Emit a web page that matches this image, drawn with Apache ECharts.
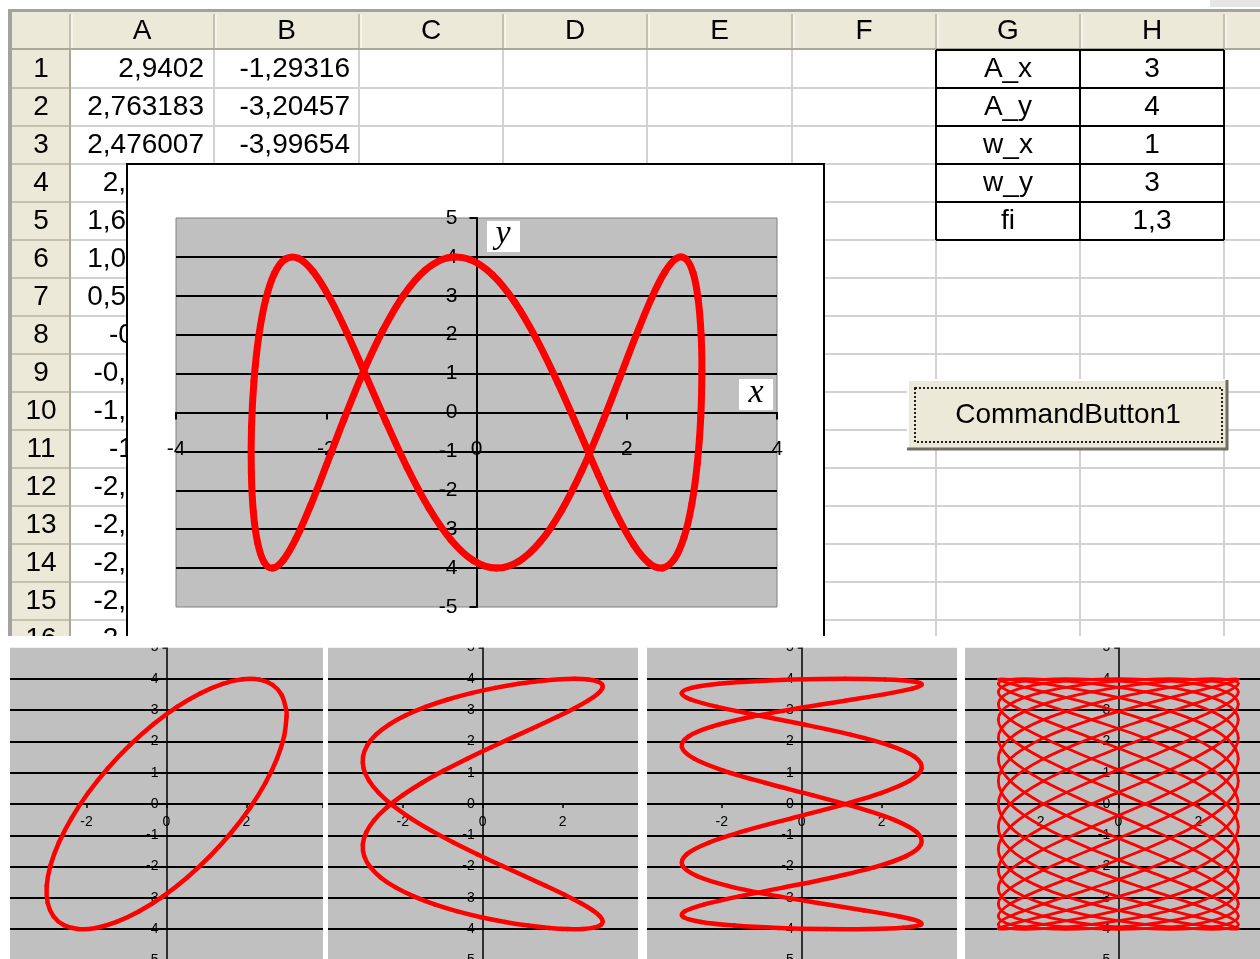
<!DOCTYPE html>
<html>
<head>
<meta charset="utf-8">
<script src="https://cdn.jsdelivr.net/npm/echarts@6/dist/echarts.min.js"></script>
<style>
  html, body { margin: 0; padding: 0; background: #fff; }
  #chart { width: 1260px; height: 959px; }
</style>
</head>
<body>
<div id="chart"></div>
<script>
// ---- worksheet contents ----
const columnLetters = ['A', 'B', 'C', 'D', 'E', 'F', 'G', 'H'];
const rowNumbers = ['1', '2', '3', '4', '5', '6', '7', '8', '9', '10', '11', '12', '13', '14', '15', '16'];
const columnA = ['2,9402', '2,763183', '2,476007', '2,09012', '1,620907', '1,087073', '0,509901', '-0,0876',
                 '-0,68161', '-1,24844', '-1,7655', '-2,21218', '-2,57067', '-2,82667', '-2,96998', '-2,99488'];
const columnB = ['-1,29316', '-3,20457', '-3,99654'];
const paramNames = ['A_x', 'A_y', 'w_x', 'w_y', 'fi'];
const paramValues = ['3', '4', '1', '3', '1,3'];
const buttonCaption = 'CommandButton1';

// ---- main curve: x = A_x cos(w_x t), y = A_y cos(w_y t + fi), t = 0 .. 2pi (last point closes the loop) ----
const mainX = [3.000, 2.985, 2.940, 2.866, 2.763, 2.633, 2.476, 2.295, 2.090, 1.865, 1.621, 1.361, 1.087, 0.802, 0.510, 0.212,
  -0.088, -0.387, -0.682, -0.970, -1.248, -1.515, -1.766, -1.999, -2.212, -2.403, -2.571, -2.712, -2.827, -2.913, -2.970, -2.997,
  -2.995, -2.962, -2.900, -2.809, -2.690, -2.544, -2.373, -2.178, -1.961, -1.724, -1.471, -1.202, -0.922, -0.632, -0.336, -0.037,
  0.262, 0.560, 0.851, 1.134, 1.406, 1.663, 1.904, 2.126, 2.327, 2.504, 2.657, 2.782, 2.881, 2.950, 2.990, 3.000];
const mainY = [1.070, -0.117, -1.293, -2.354, -3.205, -3.769, -3.997, -3.867, -3.392, -2.615, -1.603, -0.449, 0.746, 1.874, 2.835, 3.542,
  3.933, 3.973, 3.658, 3.016, 2.104, 1.005, -0.184, -1.357, -2.408, -3.244, -3.791, -3.999, -3.849, -3.356, -2.563, -1.541,
  -0.382, 0.812, 1.933, 2.882, 3.573, 3.945, 3.964, 3.630, 2.971, 2.047, 0.940, -0.251, -1.420, -2.461, -3.283, -3.812,
  -4.000, -3.831, -3.319, -2.511, -1.479, -0.315, 0.878, 1.992, 2.928, 3.603, 3.955, 3.955, 3.601, 2.926, 1.989, 1.070];

// ---- small figures ----
// 1:1 ellipse
const ellipseX = [3.000, 2.940, 2.763, 2.476, 2.090, 1.621, 1.087, 0.510, -0.088, -0.682, -1.248, -1.766, -2.212, -2.571, -2.827, -2.970,
  -2.995, -2.900, -2.690, -2.373, -1.961, -1.471, -0.922, -0.336, 0.262, 0.851, 1.406, 1.904, 2.327, 2.657, 2.881, 2.990, 3.000];
const ellipseY = [2.787, 2.161, 1.449, 0.680, -0.117, -0.909, -1.665, -2.354, -2.950, -3.428, -3.769, -3.960, -3.993, -3.867, -3.587, -3.164,
  -2.615, -1.961, -1.229, -0.449, 0.350, 1.135, 1.874, 2.539, 3.102, 3.542, 3.841, 3.986, 3.973, 3.801, 3.478, 3.016, 2.787];
// slow vertical sweep shared by the 2:1 and 4:1 figures
const sweepY = [4.000, 3.980, 3.920, 3.821, 3.684, 3.510, 3.301, 3.059, 2.787, 2.486, 2.161, 1.814, 1.449, 1.070, 0.680, 0.283,
  -0.117, -0.515, -0.909, -1.293, -1.665, -2.019, -2.354, -2.665, -2.950, -3.205, -3.428, -3.616, -3.769, -3.884, -3.960, -3.997,
  -3.993, -3.950, -3.867, -3.746, -3.587, -3.392, -3.164, -2.904, -2.615, -2.299, -1.961, -1.603, -1.229, -0.843, -0.449, -0.050,
  0.350, 0.746, 1.135, 1.512, 1.874, 2.217, 2.539, 2.835, 3.102, 3.339, 3.542, 3.710, 3.841, 3.933, 3.986, 4.000];
// 2:1 figure
const doubleX = [2.295, 2.633, 2.866, 2.985, 2.985, 2.866, 2.633, 2.295, 1.865, 1.361, 0.802, 0.212, -0.387, -0.970, -1.515, -1.999,
  -2.403, -2.712, -2.913, -2.997, -2.962, -2.809, -2.544, -2.178, -1.724, -1.202, -0.632, -0.037, 0.560, 1.134, 1.663, 2.126,
  2.504, 2.782, 2.950, 3.000, 2.930, 2.743, 2.447, 2.054, 1.578, 1.040, 0.460, -0.138, -0.731, -1.294, -1.806, -2.246,
  -2.596, -2.843, -2.977, -2.992, -2.887, -2.668, -2.342, -1.922, -1.427, -0.874, -0.286, 0.313, 0.899, 1.450, 1.943, 2.295];
// 4:1 figure
const quadX = [1.087, 2.090, 2.763, 3.000, 2.763, 2.090, 1.087, -0.088, -1.248, -2.212, -2.827, -2.995, -2.690, -1.961, -0.922, 0.262,
  1.406, 2.327, 2.881, 2.980, 2.608, 1.825, 0.754, -0.437, -1.558, -2.433, -2.925, -2.954, -2.517, -1.683, -0.583, 0.609,
  1.705, 2.532, 2.959, 2.918, 2.418, 1.535, 0.410, -0.779, -1.846, -2.621, -2.983, -2.873, -2.310, -1.382, -0.236, 0.947,
  1.981, 2.702, 2.996, 2.818, 2.194, 1.224, 0.061, -1.112, -2.109, -2.773, -3.000, -2.753, -2.071, -1.062, 0.114, 1.087];
// dense 17:7 mesh
const meshX = [
  3.000, 2.703, 1.870, 0.668, -0.668, -1.870, -2.703, -3.000, -2.703, -1.870, -0.668, 0.668, 1.870, 2.703,
  3.000, 2.703, 1.870, 0.668, -0.668, -1.870, -2.703, -3.000, -2.703, -1.870, -0.668, 0.668, 1.870, 2.703,
  3.000, 2.703, 1.870, 0.668, -0.668, -1.870, -2.703, -3.000, -2.703, -1.870, -0.668, 0.668, 1.870, 2.703,
  3.000, 2.703, 1.870, 0.668, -0.668, -1.870, -2.703, -3.000, -2.703, -1.870, -0.668, 0.668, 1.870, 2.703,
  3.000, 2.703, 1.870, 0.668, -0.668, -1.870, -2.703, -3.000, -2.703, -1.870, -0.668, 0.668, 1.870, 2.703,
  3.000, 2.703, 1.870, 0.668, -0.668, -1.870, -2.703, -3.000, -2.703, -1.870, -0.668, 0.668, 1.870, 2.703,
  3.000, 2.703, 1.870, 0.668, -0.668, -1.870, -2.703, -3.000, -2.703, -1.870, -0.668, 0.668, 1.870, 2.703,
  3.000, 2.703, 1.870, 0.668, -0.668, -1.870, -2.703, -3.000, -2.703, -1.870, -0.668, 0.668, 1.870, 2.703,
  3.000, 2.703, 1.870, 0.668, -0.668, -1.870, -2.703, -3.000, -2.703, -1.870, -0.668, 0.668, 1.870, 2.703,
  3.000, 2.703, 1.870, 0.668, -0.668, -1.870, -2.703, -3.000, -2.703, -1.870, -0.668, 0.668, 1.870, 2.703,
  3.000, 2.703, 1.870, 0.668, -0.668, -1.870, -2.703, -3.000, -2.703, -1.870, -0.668, 0.668, 1.870, 2.703,
  3.000, 2.703, 1.870, 0.668, -0.668, -1.870, -2.703, -3.000, -2.703, -1.870, -0.668, 0.668, 1.870, 2.703,
  3.000, 2.703, 1.870, 0.668, -0.668, -1.870, -2.703, -3.000, -2.703, -1.870, -0.668, 0.668, 1.870, 2.703,
  3.000, 2.703, 1.870, 0.668, -0.668, -1.870, -2.703, -3.000, -2.703, -1.870, -0.668, 0.668, 1.870, 2.703,
  3.000, 2.703, 1.870, 0.668, -0.668, -1.870, -2.703, -3.000, -2.703, -1.870, -0.668, 0.668, 1.870, 2.703,
  3.000, 2.703, 1.870, 0.668, -0.668, -1.870, -2.703, -3.000, -2.703, -1.870, -0.668, 0.668, 1.870, 2.703,
  3.000, 2.703, 1.870, 0.668, -0.668, -1.870, -2.703, -3.000, -2.703, -1.870, -0.668, 0.668, 1.870, 2.703,
  3.000];
const meshY = [
  3.983, 3.847, 3.581, 3.192, 2.695, 2.106, 1.445, 0.735, 0.000, -0.735, -1.445, -2.106, -2.695, -3.192, -3.581, -3.847, -3.983,
  -3.983, -3.847, -3.581, -3.192, -2.695, -2.106, -1.445, -0.735, 0.000, 0.735, 1.445, 2.106, 2.695, 3.192, 3.581, 3.847, 3.983,
  3.983, 3.847, 3.581, 3.192, 2.695, 2.106, 1.445, 0.735, 0.000, -0.735, -1.445, -2.106, -2.695, -3.192, -3.581, -3.847, -3.983,
  -3.983, -3.847, -3.581, -3.192, -2.695, -2.106, -1.445, -0.735, 0.000, 0.735, 1.445, 2.106, 2.695, 3.192, 3.581, 3.847, 3.983,
  3.983, 3.847, 3.581, 3.192, 2.695, 2.106, 1.445, 0.735, 0.000, -0.735, -1.445, -2.106, -2.695, -3.192, -3.581, -3.847, -3.983,
  -3.983, -3.847, -3.581, -3.192, -2.695, -2.106, -1.445, -0.735, 0.000, 0.735, 1.445, 2.106, 2.695, 3.192, 3.581, 3.847, 3.983,
  3.983, 3.847, 3.581, 3.192, 2.695, 2.106, 1.445, 0.735, 0.000, -0.735, -1.445, -2.106, -2.695, -3.192, -3.581, -3.847, -3.983,
  -3.983, -3.847, -3.581, -3.192, -2.695, -2.106, -1.445, -0.735, 0.000, 0.735, 1.445, 2.106, 2.695, 3.192, 3.581, 3.847, 3.983,
  3.983, 3.847, 3.581, 3.192, 2.695, 2.106, 1.445, 0.735, 0.000, -0.735, -1.445, -2.106, -2.695, -3.192, -3.581, -3.847, -3.983,
  -3.983, -3.847, -3.581, -3.192, -2.695, -2.106, -1.445, -0.735, 0.000, 0.735, 1.445, 2.106, 2.695, 3.192, 3.581, 3.847, 3.983,
  3.983, 3.847, 3.581, 3.192, 2.695, 2.106, 1.445, 0.735, 0.000, -0.735, -1.445, -2.106, -2.695, -3.192, -3.581, -3.847, -3.983,
  -3.983, -3.847, -3.581, -3.192, -2.695, -2.106, -1.445, -0.735, 0.000, 0.735, 1.445, 2.106, 2.695, 3.192, 3.581, 3.847, 3.983,
  3.983, 3.847, 3.581, 3.192, 2.695, 2.106, 1.445, 0.735, 0.000, -0.735, -1.445, -2.106, -2.695, -3.192, -3.581, -3.847, -3.983,
  -3.983, -3.847, -3.581, -3.192, -2.695, -2.106, -1.445, -0.735, 0.000, 0.735, 1.445, 2.106, 2.695, 3.192, 3.581, 3.847, 3.983,
  3.983];

// ---- layout ----
const SANS = '"Liberation Sans", Arial, sans-serif';
const SERIF = '"Liberation Serif", "DejaVu Serif", serif';
const colEdges = [70, 214, 359, 503, 647, 792, 936, 1080, 1224];
const HEAD_TOP = 12, HEAD_BOTTOM = 50, ROW_H = 38, SHEET_BOTTOM = 636;
const rowTop = i => HEAD_BOTTOM + ROW_H * i;

const els = [];
function rect(x, y, w, h, style, z) {
  els.push({ type: 'rect', silent: true, z: z, shape: { x: x, y: y, width: w, height: h }, style: style });
}
function line(x1, y1, x2, y2, stroke, lw, z) {
  els.push({ type: 'line', silent: true, z: z, shape: { x1: x1, y1: y1, x2: x2, y2: y2 }, style: { stroke: stroke, lineWidth: lw } });
}
function label(str, x, y, align, size, z, family, italic) {
  els.push({
    type: 'text', silent: true, z: z, x: x, y: y,
    style: {
      text: str, fill: '#000', fontSize: size, fontFamily: family || SANS, fontStyle: italic ? 'italic' : 'normal',
      align: align, textAlign: align, verticalAlign: 'middle', textVerticalAlign: 'middle'
    }
  });
}

// worksheet frame and headers
rect(12, HEAD_TOP, 1248, HEAD_BOTTOM - HEAD_TOP, { fill: '#ECE9D8' }, -30);
rect(12, HEAD_BOTTOM, 58, SHEET_BOTTOM - HEAD_BOTTOM, { fill: '#ECE9D8' }, -30);
rect(8, 9, 1252, 3, { fill: '#A2A2A2' }, -29);
rect(8, 9, 4, SHEET_BOTTOM - 9, { fill: '#A2A2A2' }, -29);
rect(1210, 0, 50, 7, { fill: '#E6E6E6' }, -29);

// cell grid
for (let i = 1; i <= 16; i++) line(70, rowTop(i), 1260, rowTop(i), '#D2D2D2', 2, -29);
colEdges.forEach(function (x, i) {
  if (i > 0) line(x, HEAD_BOTTOM, x, SHEET_BOTTOM, '#D2D2D2', 2, -29);
  line(x, HEAD_TOP + 2, x, HEAD_BOTTOM - 1, '#C3C0AE', 2, -29);
  line(x + 2, HEAD_TOP + 3, x + 2, HEAD_BOTTOM - 2, '#FFFFFF', 1, -29);
});
line(12, HEAD_BOTTOM - 1, 1260, HEAD_BOTTOM - 1, '#ACA899', 2, -28);
for (let i = 1; i <= 16; i++) line(12, rowTop(i), 70, rowTop(i), '#C3C0AE', 2, -28);
line(70, HEAD_BOTTOM, 70, SHEET_BOTTOM, '#ACA899', 2, -28);

// header captions
columnLetters.forEach(function (c, i) {
  label(c, (colEdges[i] + colEdges[i + 1]) / 2, 31, 'center', 28, -27);
});
rowNumbers.forEach(function (r, i) {
  label(r, 41, rowTop(i) + ROW_H / 2, 'center', 28, -27);
});
// cell values
columnA.forEach(function (v, i) { label(v, 204, rowTop(i) + ROW_H / 2, 'right', 28, -27); });
columnB.forEach(function (v, i) { label(v, 350, rowTop(i) + ROW_H / 2, 'right', 28, -27); });

// parameter table
paramNames.forEach(function (n, i) {
  label(n, (colEdges[6] + colEdges[7]) / 2, rowTop(i) + ROW_H / 2, 'center', 28, -27);
  label(paramValues[i], (colEdges[7] + colEdges[8]) / 2, rowTop(i) + ROW_H / 2, 'center', 28, -27);
});
for (let i = 0; i <= paramNames.length; i++) line(colEdges[6], rowTop(i), colEdges[8], rowTop(i), '#000', 2, -26);
[6, 7, 8].forEach(function (c) { line(colEdges[c], rowTop(0), colEdges[c], rowTop(paramNames.length), '#000', 2, -26); });

// command button
rect(907, 379, 321, 70, { fill: '#ECE9D8' }, -25);
line(907, 380, 1227, 380, '#FFFFFF', 2, -24);
line(908, 379, 908, 448, '#FFFFFF', 2, -24);
line(1227, 380, 1227, 450, '#716F64', 3, -24);
line(907, 449, 1228, 449, '#716F64', 3, -24);
rect(915, 388, 307, 54, { fill: 'none', stroke: '#222', lineWidth: 2, lineDash: [2, 2] }, -24);
label(buttonCaption, 1068, 415, 'center', 28, -23);

// embedded chart frame over the sheet
rect(127, 164, 697, 480, { fill: '#FFFFFF', stroke: '#000', lineWidth: 2 }, -10);
// white band under the sheet
rect(0, SHEET_BOTTOM, 1260, 959 - SHEET_BOTTOM, { fill: '#FFFFFF' }, -5);

// axis-name boxes of the main chart
rect(487, 221, 33, 31, { fill: '#FFFFFF' }, 50);
label('y', 503, 234, 'center', 34, 51, SERIF, true);
rect(739, 379, 34, 31, { fill: '#FFFFFF' }, 50);
label('x', 756, 393, 'center', 34, 51, SERIF, true);

// gaps between the small figures
rect(0, SHEET_BOTTOM, 10, 959 - SHEET_BOTTOM, { fill: '#FFFFFF' }, 50);
rect(323, SHEET_BOTTOM, 5, 959 - SHEET_BOTTOM, { fill: '#FFFFFF' }, 50);
rect(638, SHEET_BOTTOM, 9, 959 - SHEET_BOTTOM, { fill: '#FFFFFF' }, 50);
rect(957, SHEET_BOTTOM, 8, 959 - SHEET_BOTTOM, { fill: '#FFFFFF' }, 50);
rect(0, SHEET_BOTTOM, 1260, 11.5, { fill: '#FFFFFF' }, 50);

// ---- charts ----
// Closed curve drawn segment by segment as a Catmull-Rom spline through the data points.
function curveSeries(xs, ys, g, width) {
  const n = xs.length - 1;
  const idx = k => ((k % n) + n) % n;
  return {
    type: 'custom', coordinateSystem: 'cartesian2d', xAxisIndex: g, yAxisIndex: g,
    data: xs.map((x, i) => [x, ys[i]]), encode: { x: 0, y: 1 }, clip: true, silent: true,
    renderItem: function (params, api) {
      const i = params.dataIndex;
      if (i >= n) return null;
      const p0 = api.coord([xs[idx(i - 1)], ys[idx(i - 1)]]);
      const p1 = api.coord([api.value(0), api.value(1)]);
      const p2 = api.coord([xs[idx(i + 1)], ys[idx(i + 1)]]);
      const p3 = api.coord([xs[idx(i + 2)], ys[idx(i + 2)]]);
      return {
        type: 'bezierCurve',
        shape: {
          x1: p1[0], y1: p1[1], x2: p2[0], y2: p2[1],
          cpx1: p1[0] + (p2[0] - p0[0]) / 6, cpy1: p1[1] + (p2[1] - p0[1]) / 6,
          cpx2: p2[0] - (p3[0] - p1[0]) / 6, cpy2: p2[1] - (p3[1] - p1[1]) / 6
        },
        style: { stroke: '#FF0000', lineWidth: width, fill: 'none', lineCap: 'round' }
      };
    }
  };
}

const MAIN = { left: 176, top: 218, width: 601, height: 389 };
const grids = [{ left: MAIN.left, top: MAIN.top, width: MAIN.width, height: MAIN.height, show: true, backgroundColor: '#C0C0C0',
  borderColor: '#808080', borderWidth: 1, containLabel: false, outerBoundsMode: 'none' }];
// axes crossing at the origin: shift them inward from the plot edges
const xAxes = [{
  gridIndex: 0, type: 'value', min: -4, max: 4, interval: 2, position: 'bottom', offset: -MAIN.height / 2,
  axisLine: { show: true, onZero: false, lineStyle: { color: '#000', width: 2 } },
  axisTick: { show: true, length: 7, lineStyle: { color: '#000', width: 2 } },
  axisLabel: { show: true, fontSize: 21, color: '#000', fontFamily: SANS, margin: 26 },
  splitLine: { show: false }
}];
const yAxes = [{
  gridIndex: 0, type: 'value', min: -5, max: 5, interval: 1, position: 'left', offset: -MAIN.width / 2,
  axisLine: { show: true, onZero: false, lineStyle: { color: '#000', width: 2 } },
  axisTick: { show: true, length: 7, lineStyle: { color: '#000', width: 2 } },
  axisLabel: { show: true, fontSize: 21, color: '#000', fontFamily: SANS, margin: 19 },
  splitLine: { show: true, showMinLine: false, showMaxLine: false, lineStyle: { color: '#000', width: 2 } }
}];
const series = [curveSeries(mainX, mainY, 0, 7)];

const panelZeroX = [166.5, 482.7, 801.7, 1118.3];
const PANEL = { top: 647.5, width: 320, height: 313 };
const panelCurves = [[ellipseX, ellipseY, 4.5], [doubleX, sweepY, 4.5], [quadX, sweepY, 4.5], [meshX, meshY, 2.8]];

panelZeroX.forEach(function (x0, i) {
  const g = i + 1;
  grids.push({ left: x0 - PANEL.width / 2, top: PANEL.top, width: PANEL.width, height: PANEL.height, show: true,
    backgroundColor: '#C0C0C0', borderWidth: 0, containLabel: false, outerBoundsMode: 'none' });
  xAxes.push({
    gridIndex: g, type: 'value', min: -4, max: 4, interval: 2, position: 'bottom', offset: -PANEL.height / 2,
    axisLine: { show: true, onZero: false, lineStyle: { color: '#000', width: 1.5 } },
    axisTick: { show: true, length: 4, lineStyle: { color: '#000', width: 1.5 } },
    axisLabel: { show: true, fontSize: 14, color: '#000', fontFamily: SANS, margin: 11,
      formatter: function (v) { return Math.abs(v) >= 4 ? '' : String(v); } },
    splitLine: { show: false }
  });
  yAxes.push({
    gridIndex: g, type: 'value', min: -5, max: 5, interval: 1, position: 'left', offset: -PANEL.width / 2,
    axisLine: { show: true, onZero: false, lineStyle: { color: '#000', width: 1.5 } },
    axisTick: { show: true, length: 4, lineStyle: { color: '#000', width: 1.5 } },
    axisLabel: { show: true, fontSize: 14, color: '#000', fontFamily: SANS, margin: 8 },
    splitLine: { show: true, showMinLine: false, showMaxLine: false, lineStyle: { color: '#000', width: 2 } }
  });
  const c = panelCurves[i];
  series.push(curveSeries(c[0], c[1], g, c[2]));
});

const chart = echarts.init(document.getElementById('chart'), null, { renderer: 'canvas' });
chart.setOption({
  animation: false,
  grid: grids,
  xAxis: xAxes,
  yAxis: yAxes,
  series: series,
  graphic: { elements: els }
});
</script>
</body>
</html>
